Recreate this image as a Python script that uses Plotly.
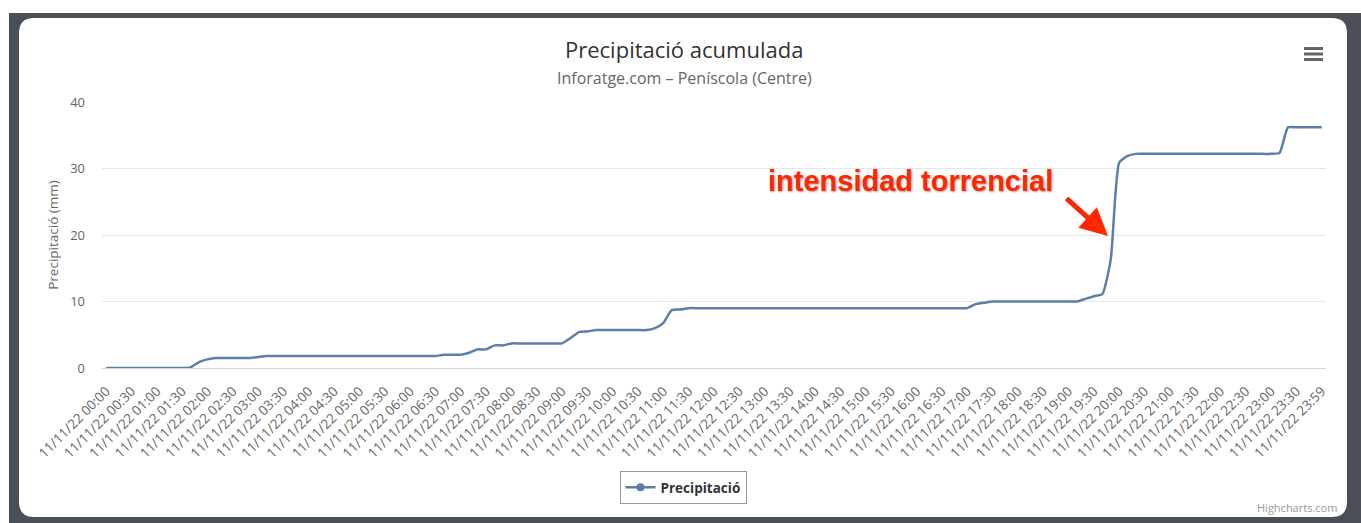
import plotly.graph_objects as go

# ---------------- data ----------------
hours = [f"{h:02d}" for h in range(24)]
minutes = ["00", "10", "20", "30", "40", "50"]
times = [f"11/11/22 {h}:{m}" for h in hours for m in minutes] + ["11/11/22 23:59"]

precip = [
    0, 0, 0, 0, 0, 0, 0, 0, 0, 0,
    0.1, 0.9, 1.3, 1.5, 1.5, 1.5, 1.5, 1.5, 1.65,
    1.8, 1.8, 1.8, 1.8, 1.8, 1.8, 1.8, 1.8, 1.8, 1.8,
    1.8, 1.8, 1.8, 1.8, 1.8, 1.8, 1.8, 1.8, 1.8, 1.8, 1.8,
    2.0, 2.0, 2.0, 2.3, 2.8, 2.8, 3.4, 3.4,
    3.7, 3.7, 3.7, 3.7, 3.7, 3.7, 3.7,
    4.5, 5.4, 5.5,
    5.7, 5.7, 5.7, 5.7, 5.7, 5.7, 5.7,
    6.0, 6.8, 8.7, 8.8,
    9.0, 9.0, 9.0, 9.0, 9.0, 9.0, 9.0, 9.0, 9.0, 9.0,
    9.0, 9.0, 9.0, 9.0, 9.0, 9.0, 9.0, 9.0, 9.0, 9.0,
    9.0, 9.0, 9.0, 9.0, 9.0, 9.0, 9.0, 9.0, 9.0, 9.0,
    9.0, 9.0, 9.0, 9.0,
    9.6, 9.8,
    10.0, 10.0, 10.0, 10.0, 10.0, 10.0, 10.0, 10.0, 10.0, 10.0, 10.0,
    10.4, 10.8, 11.1, 16.3, 30.9, 31.9,
    32.2, 32.2, 32.2, 32.2, 32.2, 32.2, 32.2, 32.2, 32.2,
    32.2, 32.2, 32.2, 32.2, 32.2, 32.2, 32.2, 32.2, 32.35,
    36.2, 36.2, 36.2, 36.2, 36.2,
]

tick_labels = times[::3]
y_ticks = [0, 10, 20, 30, 40]

title_text = "Precipitació acumulada"
subtitle_text = "Inforatge.com – Peníscola (Centre)"
series_name = "Precipitació"
y_title = "Precipitació (mm)"
note_text = "intensidad torrencial"

# ---------------- geometry ----------------
W, H = 1361, 523
L, R, T, B = 102, 35, 102, 155
PW, PH = W - L - R, H - T - B


def px(x):
    return (x - L) / PW


def py(y):
    return (H - B - y) / PH


FONT = "Open Sans, DejaVu Sans, sans-serif"
LINE_COLOR = "#5b7fa9"
DARK = "#4a4e57"

fig = go.Figure()
fig.add_trace(go.Scatter(
    x=times, y=precip, mode="lines", name=series_name,
    line=dict(color=LINE_COLOR, width=2.5, shape="spline", smoothing=0.5),
    showlegend=False,
))
# legend entry (line + marker symbol like the reference)
fig.add_trace(go.Scatter(
    x=[None], y=[None], mode="lines+markers", name=series_name,
    line=dict(color=LINE_COLOR, width=2.5),
    marker=dict(color=LINE_COLOR, size=8),
))

# background frame and card
x0, y0, x1, y1, r = 19, 18, 1347, 517, 15


def P(x, y):
    return f"{px(x):.6f},{py(y):.6f}"


card = (
    f"M {P(x0 + r, y0)} L {P(x1 - r, y0)} Q {P(x1, y0)} {P(x1, y0 + r)} "
    f"L {P(x1, y1 - r)} Q {P(x1, y1)} {P(x1 - r, y1)} "
    f"L {P(x0 + r, y1)} Q {P(x0, y1)} {P(x0, y1 - r)} "
    f"L {P(x0, y0 + r)} Q {P(x0, y0)} {P(x0 + r, y0)} Z"
)
shapes = [
    dict(type="rect", xref="paper", yref="paper", x0=px(9), x1=px(1370),
         y0=py(13), y1=py(530), fillcolor=DARK, line=dict(width=0), layer="below"),
    dict(type="path", xref="paper", yref="paper", path=card,
         fillcolor="white", line=dict(width=0), layer="below"),
]
# menu icon
for yy in (48.5, 54, 59.5):
    shapes.append(dict(type="line", xref="paper", yref="paper",
                       x0=px(1304), x1=px(1323), y0=py(yy), y1=py(yy),
                       line=dict(color="#666666", width=3)))

annotations = [
    dict(text=title_text, xref="paper", yref="paper", x=px(684), y=py(49),
         xanchor="center", yanchor="middle", showarrow=False,
         font=dict(family=FONT, size=22, color="#333333")),
    dict(text=subtitle_text, xref="paper", yref="paper", x=px(684), y=py(78),
         xanchor="center", yanchor="middle", showarrow=False,
         font=dict(family=FONT, size=16, color="#666666")),
    dict(text="Highcharts.com", xref="paper", yref="paper", x=px(1338), y=py(508),
         xanchor="right", yanchor="middle", showarrow=False, borderpad=0,
         font=dict(family=FONT, size=11, color="#999999")),
    dict(text=note_text, xref="paper", yref="paper", x=px(910), y=py(181),
         xanchor="center", yanchor="middle", showarrow=False,
         font=dict(family="Liberation Sans, Arial, sans-serif", size=29,
                   color="#ff2600", weight="bold",
                   shadow="1px 1px 2px rgba(0,0,0,0.35)")),
    dict(text="", xref="paper", yref="paper", x=px(1108), y=py(236),
         ax=-43, ay=-39, showarrow=True, arrowhead=2, arrowsize=1.1,
         arrowwidth=5, arrowcolor="#ff2600", standoff=0),
]

fig.update_layout(
    width=W, height=H,
    margin=dict(l=L, r=R, t=T, b=B, pad=0),
    paper_bgcolor="white", plot_bgcolor="rgba(0,0,0,0)",
    shapes=shapes, annotations=annotations,
    font=dict(family=FONT, color="#666666"),
    showlegend=True,
    legend=dict(x=px(683), y=py(471), xanchor="center", yanchor="top",
                orientation="h", bordercolor="#999999", borderwidth=1,
                bgcolor="white",
                font=dict(family=FONT, size=13.5, color="#333333", weight="bold")),
    xaxis=dict(type="category", range=[-0.5, len(times) - 0.5],
               tickmode="array", tickvals=tick_labels, ticktext=tick_labels,
               tickangle=-45, showgrid=False, zeroline=False,
               showline=True, linecolor="#ccd6eb", linewidth=1,
               ticks="", ticklabelstandoff=9,
               tickfont=dict(family=FONT, size=13.5, color="#666666")),
    yaxis=dict(range=[0, 40], tickvals=y_ticks, showgrid=True,
               gridcolor="#e6e6e6", gridwidth=1, zeroline=False,
               showline=False, ticks="", ticklabelstandoff=16,
               tickfont=dict(family=FONT, size=13, color="#666666"),
               title=dict(text=y_title, standoff=8,
                          font=dict(family=FONT, size=13.5, color="#666666"))),
)

fig.write_html("out.html", config={"displayModeBar": False},
               post_script="document.body.style.margin='0';document.body.style.overflow='hidden';")
